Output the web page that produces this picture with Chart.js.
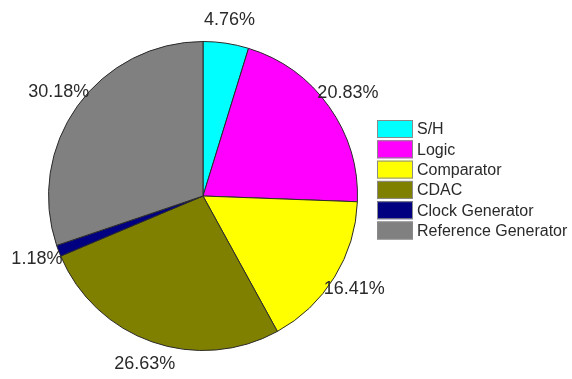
<!DOCTYPE html>
<html>
<head>
<meta charset="utf-8">
<script src="https://cdn.jsdelivr.net/npm/chart.js@4/dist/chart.umd.min.js"></script>
<style>
  html, body { margin: 0; padding: 0; background: #fff; }
  #wrap { width: 572px; height: 379px; }
</style>
</head>
<body>
<div id="wrap"><canvas id="pieChart" width="572" height="379"></canvas></div>
<script>
const categories = ['S/H', 'Logic', 'Comparator', 'CDAC', 'Clock Generator', 'Reference Generator'];
const shares = [4.76, 20.83, 16.41, 26.63, 1.18, 30.18];
const sliceColors = ['#00ffff', '#ff00ff', '#ffff00', '#808000', '#000080', '#808080'];

// percentage labels just outside each slice
const sliceLabels = {
    id: 'sliceLabels',
    afterDatasetsDraw(chart) {
        const ctx = chart.ctx;
        const meta = chart.getDatasetMeta(0);
        ctx.save();
        ctx.font = '18px "Liberation Sans", Arial, sans-serif';
        ctx.fillStyle = '#2a2a2a';
        ctx.textAlign = 'center';
        ctx.textBaseline = 'middle';
        meta.data.forEach((arc, i) => {
            const p = arc.getProps(['x', 'y', 'startAngle', 'endAngle', 'outerRadius'], true);
            const mid = (p.startAngle + p.endAngle) / 2;
            const r = p.outerRadius * 1.15;
            ctx.fillText(shares[i].toFixed(2) + '%', p.x + Math.cos(mid) * r, p.y + Math.sin(mid) * r);
        });
        ctx.restore();
    }
};

// boxed legend on the right
const boxLegend = {
    id: 'boxLegend',
    afterDraw(chart) {
        const ctx = chart.ctx;
        const left = 377, top = 120, boxW = 36, boxH = 18, step = 20.3;
        ctx.save();
        ctx.font = '16px "Liberation Sans", Arial, sans-serif';
        ctx.textBaseline = 'middle';
        ctx.textAlign = 'left';
        categories.forEach((name, i) => {
            const y = top + i * step;
            ctx.fillStyle = sliceColors[i];
            ctx.fillRect(left, y, boxW, boxH);
            ctx.strokeStyle = '#8a8a8a';
            ctx.lineWidth = 1;
            ctx.strokeRect(left + 0.5, y + 0.5, boxW - 1, boxH - 1);
            ctx.fillStyle = '#2a2a2a';
            ctx.fillText(name, left + boxW + 4, y + boxH / 2 + 1);
        });
        ctx.restore();
    }
};

new Chart(document.getElementById('pieChart'), {
    type: 'pie',
    data: {
        labels: categories,
        datasets: [{
            data: shares,
            backgroundColor: sliceColors,
            borderColor: '#2b2b2b',
            borderWidth: 1
        }]
    },
    options: {
        responsive: false,
        animation: false,
        layout: {
            padding: { left: 48, right: 214, top: 41, bottom: 28 }
        },
        plugins: {
            legend: { display: false },
            tooltip: { enabled: false }
        }
    },
    plugins: [sliceLabels, boxLegend]
});
</script>
</body>
</html>
